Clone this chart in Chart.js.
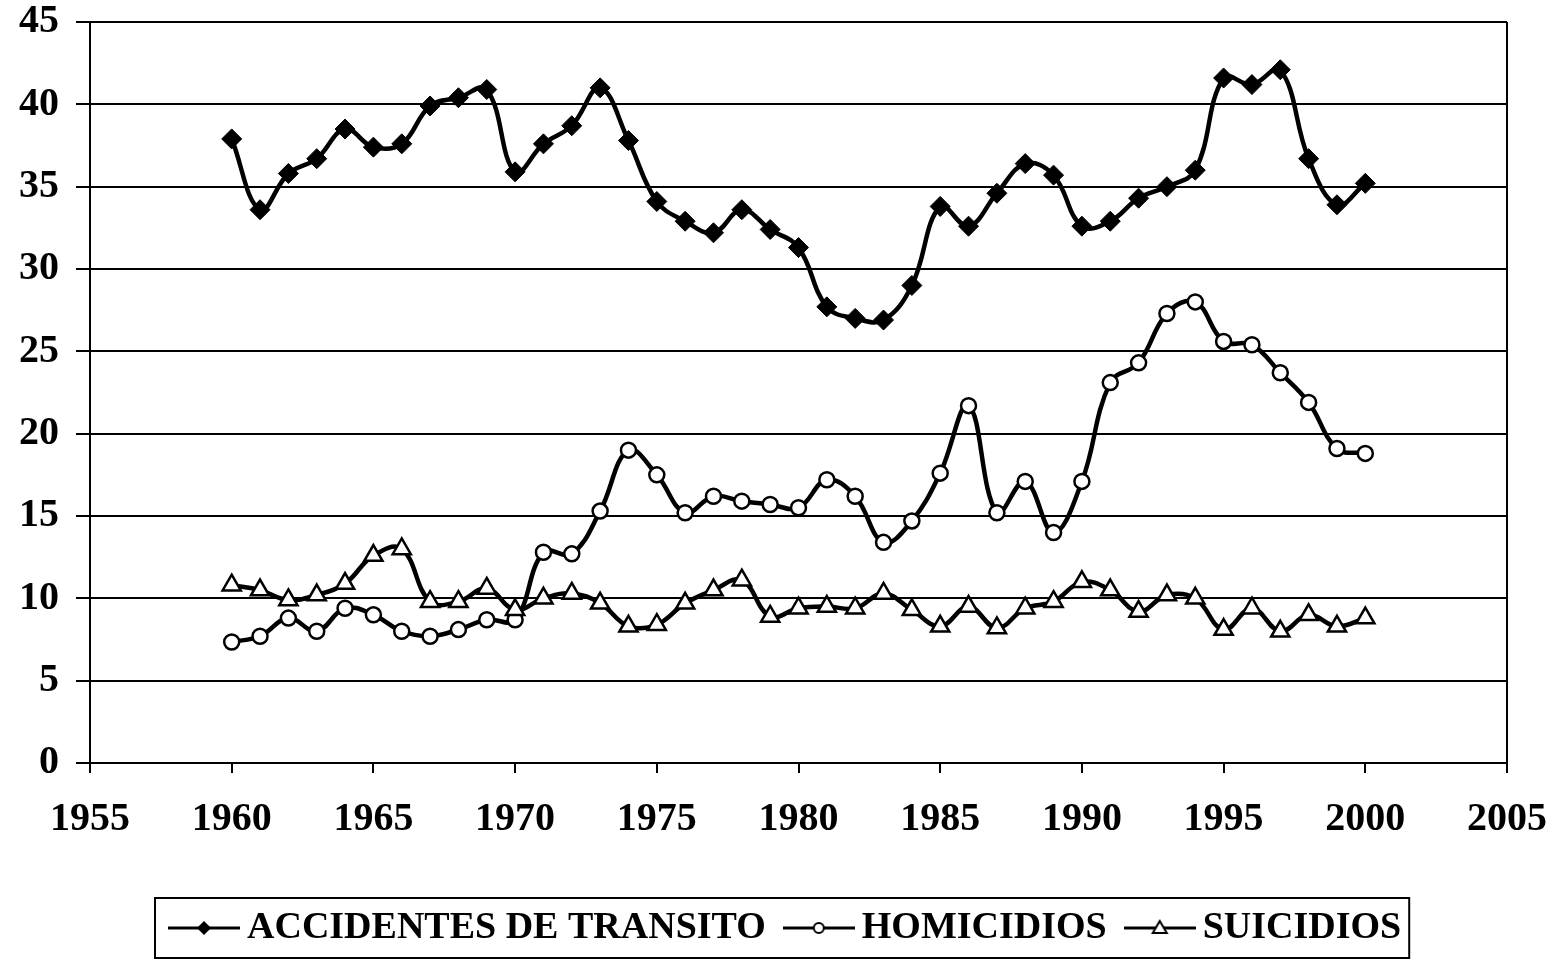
<!DOCTYPE html>
<html>
<head>
<meta charset="utf-8">
<script src="https://cdn.jsdelivr.net/npm/chart.js@4/dist/chart.umd.min.js"></script>
<style>
  html, body { margin: 0; padding: 0; background: #fff; }
  #wrap { width: 1556px; height: 961px; position: relative; }
</style>
</head>
<body>
<div id="wrap"><canvas id="c" width="1556" height="961"></canvas></div>
<script>
const years = [1960,1961,1962,1963,1964,1965,1966,1967,1968,1969,
               1970,1971,1972,1973,1974,1975,1976,1977,1978,1979,
               1980,1981,1982,1983,1984,1985,1986,1987,1988,1989,
               1990,1991,1992,1993,1994,1995,1996,1997,1998,1999,2000];
const accidentes = [37.9,33.6,35.8,36.7,38.5,37.4,37.6,39.9,40.4,40.9,
                    35.9,37.6,38.7,41.0,37.8,34.1,32.9,32.2,33.6,32.4,
                    31.3,27.7,27.0,26.9,29.0,33.8,32.6,34.6,36.4,35.7,
                    32.6,32.9,34.3,35.0,36.0,41.6,41.2,42.1,36.7,33.9,35.2];
const homicidios = [7.35,7.7,8.8,8.0,9.4,9.0,8.0,7.7,8.1,8.7,
                    8.7,12.8,12.7,15.3,19.0,17.5,15.2,16.2,15.9,15.7,
                    15.5,17.2,16.2,13.4,14.7,17.6,21.7,15.2,17.1,14.0,
                    17.1,23.1,24.3,27.3,28.0,25.6,25.4,23.7,21.9,19.1,18.8];
const suicidios = [10.8,10.5,9.9,10.2,10.9,12.6,13.0,9.8,9.8,10.6,
                   9.3,10.0,10.3,9.7,8.3,8.4,9.7,10.5,11.1,8.9,
                   9.4,9.5,9.4,10.3,9.3,8.3,9.5,8.2,9.4,9.8,
                   11.0,10.5,9.2,10.2,10.0,8.1,9.4,8.0,9.0,8.3,8.8];
const seriesNames = ['ACCIDENTES DE TRANSITO', 'HOMICIDIOS', 'SUICIDIOS'];
const xTicks = [1955,1960,1965,1970,1975,1980,1985,1990,1995,2000,2005];
const yTicks = [0,5,10,15,20,25,30,35,40,45];

function pts(vals) { return vals.map((v, i) => ({ x: years[i], y: v })); }

function legendSymbol(kind) {
  const c = document.createElement('canvas');
  c.width = 72; c.height = 24;
  const g = c.getContext('2d');
  g.strokeStyle = '#000'; g.lineWidth = 3;
  g.beginPath(); g.moveTo(0, 12); g.lineTo(72, 12); g.stroke();
  g.lineWidth = 2;
  if (kind === 'diamond') {
    g.fillStyle = '#000';
    g.beginPath(); g.moveTo(36, 5); g.lineTo(43, 12); g.lineTo(36, 19); g.lineTo(29, 12); g.closePath(); g.fill();
  } else if (kind === 'circle') {
    g.fillStyle = '#fff';
    g.beginPath(); g.arc(36, 12, 5, 0, Math.PI * 2); g.fill(); g.stroke();
  } else {
    g.fillStyle = '#fff';
    g.beginPath(); g.moveTo(36, 5); g.lineTo(43, 17); g.lineTo(29, 17); g.closePath(); g.fill(); g.stroke();
  }
  return c;
}
const symbols = [legendSymbol('diamond'), legendSymbol('circle'), legendSymbol('triangle')];

const tickFont = { family: '"Liberation Serif", "Times New Roman", serif', size: 40, weight: 'bold', lineHeight: 1.1 };
const LEGEND_PAD = 29;
const LEGEND_FONT = 38;

function legendStartX(lg) {
  return (lg.left + LEGEND_PAD + lg.right - lg.lineWidths[0]) / 2;
}

const framePlugin = {
  id: 'frame',
  afterUpdate(chart) {
    const lg = chart.legend;
    if (lg && lg.lineWidths && lg.lineWidths.length) {
      const off = 180 - legendStartX(lg);
      lg.left += off; lg.right += off;
    }
  },
  afterDraw(chart) {
    const ctx = chart.ctx, a = chart.chartArea;
    ctx.save();
    ctx.strokeStyle = '#000';
    ctx.lineWidth = 2;
    ctx.beginPath();
    ctx.moveTo(a.right, a.top); ctx.lineTo(a.right, a.bottom);
    ctx.stroke();
    const lg = chart.legend;
    if (lg && lg.lineWidths && lg.lineWidths.length) {
      const sx = legendStartX(lg);
      const ex = sx + lg.lineWidths[0] - LEGEND_PAD;
      const cy = lg.top + LEGEND_PAD + LEGEND_FONT / 2;
      const left = sx - 25;
      const right = ex + 8;
      ctx.strokeRect(left, cy - 30, right - left, 60);
    }
    ctx.restore();
  }
};

new Chart(document.getElementById('c'), {
  type: 'line',
  data: {
    datasets: [
      { label: seriesNames[0], data: pts(accidentes), order: 2,
        borderColor: '#000', borderWidth: 4.5, tension: 0.4,
        pointStyle: 'rectRot', pointRadius: 10, pointBackgroundColor: '#000', pointBorderColor: '#000', pointBorderWidth: 1 },
      { label: seriesNames[1], data: pts(homicidios), order: 1,
        borderColor: '#000', borderWidth: 4.5, tension: 0.4,
        pointStyle: 'circle', pointRadius: 7.5, pointBackgroundColor: '#fff', pointBorderColor: '#000', pointBorderWidth: 2.5 },
      { label: seriesNames[2], data: pts(suicidios), order: 0,
        borderColor: '#000', borderWidth: 4.5, tension: 0.4,
        pointStyle: 'triangle', pointRadius: 10.5, pointBackgroundColor: '#fff', pointBorderColor: '#000', pointBorderWidth: 2.5 }
    ]
  },
  options: {
    responsive: false,
    animation: false,
    layout: { padding: { left: 0, right: 49, top: 22, bottom: 4 } },
    scales: {
      x: {
        type: 'linear', min: 1955, max: 2005,
        afterBuildTicks(s) { s.ticks = xTicks.map(v => ({ value: v })); },
        afterFit(s) { s.height = 117; s.paddingLeft = 0; s.paddingRight = 0; s.paddingTop = 0; s.paddingBottom = 0; },
        ticks: { font: tickFont, color: '#000', padding: 25, maxRotation: 0, autoSkip: false,
                 callback: v => String(v) },
        grid: { drawOnChartArea: false, drawTicks: true, tickLength: 10, color: '#000', lineWidth: 2 },
        border: { display: true, color: '#000', width: 2 }
      },
      y: {
        type: 'linear', min: 0, max: 45,
        afterBuildTicks(s) { s.ticks = yTicks.map(v => ({ value: v })); },
        afterFit(s) { s.width = 90; s.paddingLeft = 0; s.paddingRight = 0; s.paddingTop = 0; s.paddingBottom = 0; },
        ticks: { font: tickFont, color: '#000', padding: 17, callback: v => String(v) },
        grid: { color: '#000', lineWidth: 2, drawTicks: true, tickLength: 14 },
        border: { display: true, color: '#000', width: 2 }
      }
    },
    plugins: {
      legend: {
        position: 'bottom',
        labels: {
          usePointStyle: true,
          pointStyleWidth: 48,
          padding: LEGEND_PAD,
          color: '#000',
          font: { family: '"Liberation Serif", "Times New Roman", serif', size: LEGEND_FONT, weight: 'bold' },
          sort: (a, b) => a.datasetIndex - b.datasetIndex,
          generateLabels(chart) {
            const items = Chart.defaults.plugins.legend.labels.generateLabels(chart);
            items.forEach(it => { it.pointStyle = symbols[it.datasetIndex]; });
            return items;
          }
        }
      },
      tooltip: { enabled: false }
    }
  },
  plugins: [framePlugin]
});
</script>
</body>
</html>
